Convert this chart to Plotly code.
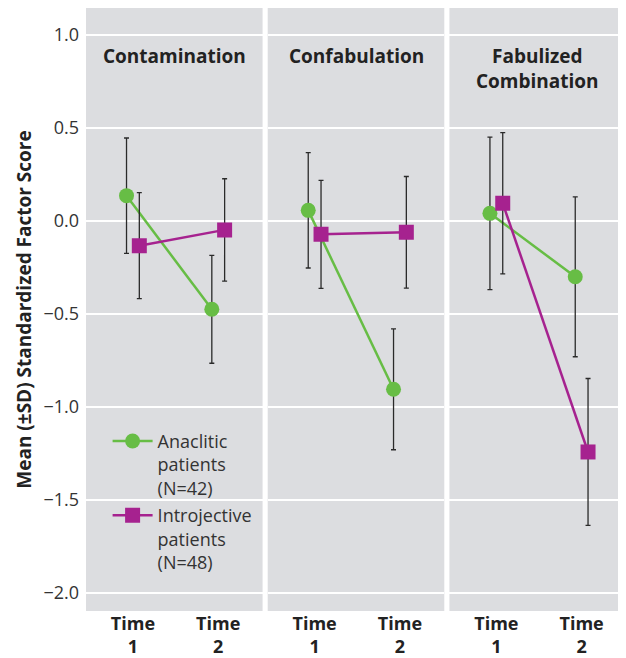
import plotly.graph_objects as go
from plotly.subplots import make_subplots

panels = ["Contamination", "Confabulation", "Fabulized<br>Combination"]
time_labels = ["<b>Time<br>1</b>", "<b>Time<br>2</b>"]
time_pos = [1, 2]

anaclitic_mean = [[0.136, -0.475], [0.057, -0.905], [0.041, -0.300]]
anaclitic_sd = [[0.31, 0.29], [0.31, 0.325], [0.41, 0.43]]
introjective_mean = [[-0.133, -0.048], [-0.072, -0.061], [0.095, -1.242]]
introjective_sd = [[0.285, 0.275], [0.29, 0.30], [0.38, 0.395]]

y_ticks = [1.0, 0.5, 0.0, -0.5, -1.0, -1.5, -2.0]
y_ticktext = ["1.0", "0.5", "0.0", "\u22120.5", "\u22121.0", "\u22121.5", "\u22122.0"]

green = "#67bd45"
magenta = "#a6228f"
bg = "#dcdde0"
font = "Open Sans"

fig = make_subplots(rows=1, cols=3, shared_yaxes=True, horizontal_spacing=0.0095)

dodge = 0.075
for i in range(3):
    fig.add_trace(go.Scatter(
        x=[t - dodge for t in time_pos], y=anaclitic_mean[i],
        mode="lines+markers", name="Anaclitic<br>patients<br>(N=42)",
        line=dict(color=green, width=2.5),
        marker=dict(symbol="circle", size=15, color=green),
        error_y=dict(type="data", array=anaclitic_sd[i], color="#2a2a2a", thickness=1.3, width=2.5),
        showlegend=(i == 0), legendgroup="a"), row=1, col=i + 1)
    fig.add_trace(go.Scatter(
        x=[t + dodge for t in time_pos], y=introjective_mean[i],
        mode="lines+markers", name="Introjective<br>patients<br>(N=48)",
        line=dict(color=magenta, width=2.5),
        marker=dict(symbol="square", size=15, color=magenta),
        error_y=dict(type="data", array=introjective_sd[i], color="#2a2a2a", thickness=1.3, width=2.5),
        showlegend=(i == 0), legendgroup="b"), row=1, col=i + 1)

for i in range(3):
    fig.update_xaxes(row=1, col=i + 1, range=[0.45, 2.52], tickvals=time_pos, ticktext=time_labels,
                     showgrid=False, zeroline=False, ticks="", showline=False,
                     tickfont=dict(family=font, size=18, color="#222"))
    fig.update_yaxes(row=1, col=i + 1, range=[-2.097, 1.145], tickvals=y_ticks, ticktext=y_ticktext,
                     gridcolor="white", gridwidth=2, zeroline=False, ticks="", showline=False,
                     tickfont=dict(family=font, size=18, color="#333"))
    xref = "x domain" if i == 0 else f"x{i + 1} domain"
    fig.add_annotation(x=0.5, y=0.945, xref=xref, yref="paper", text=f"<b>{panels[i]}</b>",
                       showarrow=False, yanchor="top", xanchor="center",
                       font=dict(family=font, size=19, color="#222"))

fig.update_yaxes(row=1, col=1, ticklabelstandoff=6,
                 title=dict(text="<b>Mean (\u00b1SD) Standardized Factor Score</b>",
                            font=dict(family=font, size=19, color="#222"), standoff=6))

fig.update_layout(
    width=618, height=650,
    margin=dict(l=78, r=0, t=0, b=47),
    paper_bgcolor="white", plot_bgcolor=bg,
    legend=dict(x=0.04, y=0.312, xanchor="left", yanchor="top", bgcolor="rgba(0,0,0,0)",
                font=dict(family=font, size=18, color="#333"), valign="top",
                tracegroupgap=1, itemwidth=40),
    font=dict(family=font),
)

fig.write_html("out.html")
